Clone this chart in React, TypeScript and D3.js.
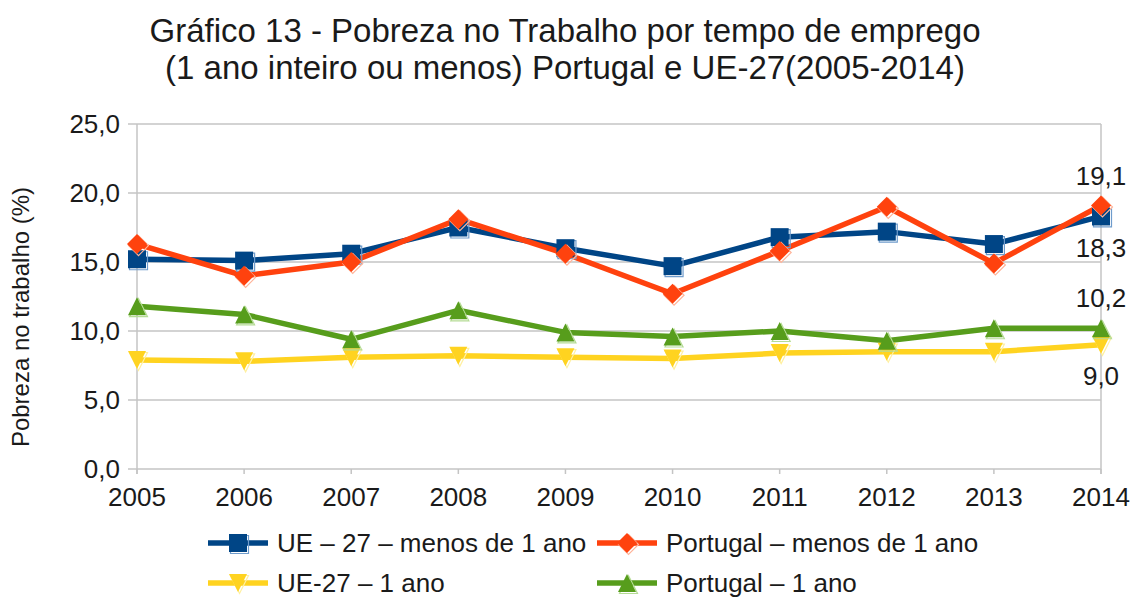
import React from "react";
import * as d3 from "d3";

const years = ["2005", "2006", "2007", "2008", "2009", "2010", "2011", "2012", "2013", "2014"];
const ueMenos = [15.2, 15.1, 15.6, 17.5, 16.0, 14.7, 16.8, 17.2, 16.3, 18.3];
const ptMenos = [16.3, 14.0, 15.0, 18.1, 15.6, 12.7, 15.8, 19.0, 14.9, 19.1];
const ue1 = [7.9, 7.8, 8.1, 8.2, 8.1, 8.0, 8.4, 8.5, 8.5, 9.0];
const pt1 = [11.8, 11.2, 9.4, 11.5, 9.9, 9.6, 10.0, 9.3, 10.2, 10.2];
const yTicks = [0, 5, 10, 15, 20, 25];
const titleLines = [
  "Gráfico 13 - Pobreza no Trabalho por tempo de emprego",
  "(1 ano inteiro ou menos) Portugal e UE-27(2005-2014)",
];
const yTitle = "Pobreza no trabalho (%)";

type Series = { name: string; values: number[]; color: string; light: string; marker: string; labelPos: "above" | "below" };
const series: Series[] = [
  { name: "UE – 27 – menos de 1 ano", values: ueMenos, color: "#004586", light: "#6f9ccc", marker: "square", labelPos: "below" },
  { name: "Portugal – menos de 1 ano", values: ptMenos, color: "#ff420e", light: "#ffb49a", marker: "diamond", labelPos: "above" },
  { name: "UE-27 – 1 ano", values: ue1, color: "#ffd320", light: "#fff0a0", marker: "triDown", labelPos: "below" },
  { name: "Portugal – 1 ano", values: pt1, color: "#579d1c", light: "#b5dc95", marker: "triUp", labelPos: "above" },
];

const FONT = "'Liberation Sans', Arial, sans-serif";
const TXT = "#1a1a1a";

function markerPath(kind: string, s: number): string {
  const h = s / 2;
  switch (kind) {
    case "square":
      return `M${-h},${-h}H${h}V${h}H${-h}Z`;
    case "diamond":
      return `M0,${-h - 1}L${h + 1},0L0,${h + 1}L${-h - 1},0Z`;
    case "triDown":
      return `M${-h},${-h}H${h}L0,${h}Z`;
    case "triUp":
    default:
      return `M${-h},${h}H${h}L0,${-h}Z`;
  }
}

function Marker({ kind, x, y, color, light }: { kind: string; x: number; y: number; color: string; light: string }) {
  const d = markerPath(kind, 18);
  return (
    <g>
      <path d={d} transform={`translate(${x + 1.5},${y + 1.5})`} fill="none" stroke={light} strokeWidth={1.2} />
      <path d={d} transform={`translate(${x},${y})`} fill={color} />
    </g>
  );
}

export default function App() {
  const W = 1134;
  const H = 598;
  const x0 = 137;
  const x1 = 1101;
  const yTop = 124;
  const yBot = 469;

  const x = d3.scalePoint<string>().domain(years).range([x0, x1]);
  const y = d3.scaleLinear().domain([0, 25]).range([yBot, yTop]);
  const line = d3
    .line<number>()
    .x((_, i) => x(years[i]) as number)
    .y((d) => y(d));
  const fmt = (v: number) => d3.format(".1f")(v).replace(".", ",");

  const legendItems = [
    { s: series[0], lx: 208, ly: 543 },
    { s: series[1], lx: 597, ly: 543 },
    { s: series[2], lx: 208, ly: 583 },
    { s: series[3], lx: 597, ly: 583 },
  ];

  return (
    <svg
      width={W}
      height={H}
      viewBox={`0 0 ${W} ${H}`}
      style={{ position: "absolute", left: 0, top: 0, background: "#fff" }}
      fontFamily={FONT}
    >
      <rect width={W} height={H} fill="#fff" />
      {/* title */}
      {titleLines.map((t, i) => (
        <text key={i} x={565} y={42 + i * 37} textAnchor="middle" fontSize={33} fill={TXT}>
          {t}
        </text>
      ))}
      {/* grid */}
      {yTicks.map((t) => (
        <g key={t}>
          <line x1={x0 - 9} x2={x1} y1={y(t)} y2={y(t)} stroke="#c4c4c4" strokeWidth={1.5} />
          <text x={120} y={y(t)} dy="0.35em" textAnchor="end" fontSize={26} fill={TXT}>
            {fmt(t)}
          </text>
        </g>
      ))}
      <line x1={x0} x2={x0} y1={yTop} y2={yBot + 5} stroke="#c4c4c4" strokeWidth={1.5} />
      <line x1={x1} x2={x1} y1={yTop} y2={yBot + 5} stroke="#c4c4c4" strokeWidth={1.5} />
      {years.map((yr) => (
        <g key={yr}>
          <line x1={x(yr)} x2={x(yr)} y1={yBot} y2={yBot + 5} stroke="#c4c4c4" strokeWidth={1.5} />
          <text x={x(yr)} y={506} textAnchor="middle" fontSize={26} fill={TXT}>
            {yr}
          </text>
        </g>
      ))}
      <text transform={`translate(29,317) rotate(-90)`} textAnchor="middle" fontSize={24} fill={TXT}>
        {yTitle}
      </text>
      {/* lines */}
      {series.map((s) => (
        <path key={s.name} d={line(s.values) || ""} fill="none" stroke={s.color} strokeWidth={5.5} strokeLinejoin="round" />
      ))}
      {series.map((s) => (
        <g key={s.name + "m"}>
          {s.values.map((v, i) => (
            <Marker key={i} kind={s.marker} x={x(years[i]) as number} y={y(v)} color={s.color} light={s.light} />
          ))}
        </g>
      ))}
      {/* data labels for last point */}
      {series.map((s) => {
        const v = s.values[s.values.length - 1];
        const px = x(years[years.length - 1]) as number;
        const py = y(v) + (s.labelPos === "above" ? -30 : 31);
        return (
          <text key={s.name + "l"} x={px} y={py} dy="0.35em" textAnchor="middle" fontSize={26} fill={TXT}>
            {fmt(v)}
          </text>
        );
      })}
      {/* legend */}
      {legendItems.map(({ s, lx, ly }) => (
        <g key={s.name + "lg"}>
          <line x1={lx} x2={lx + 60} y1={ly} y2={ly} stroke={s.color} strokeWidth={5.5} />
          <Marker kind={s.marker} x={lx + 30} y={ly} color={s.color} light={s.light} />
          <text x={lx + 69} y={ly} dy="0.35em" fontSize={26} fill={TXT}>
            {s.name}
          </text>
        </g>
      ))}
    </svg>
  );
}
